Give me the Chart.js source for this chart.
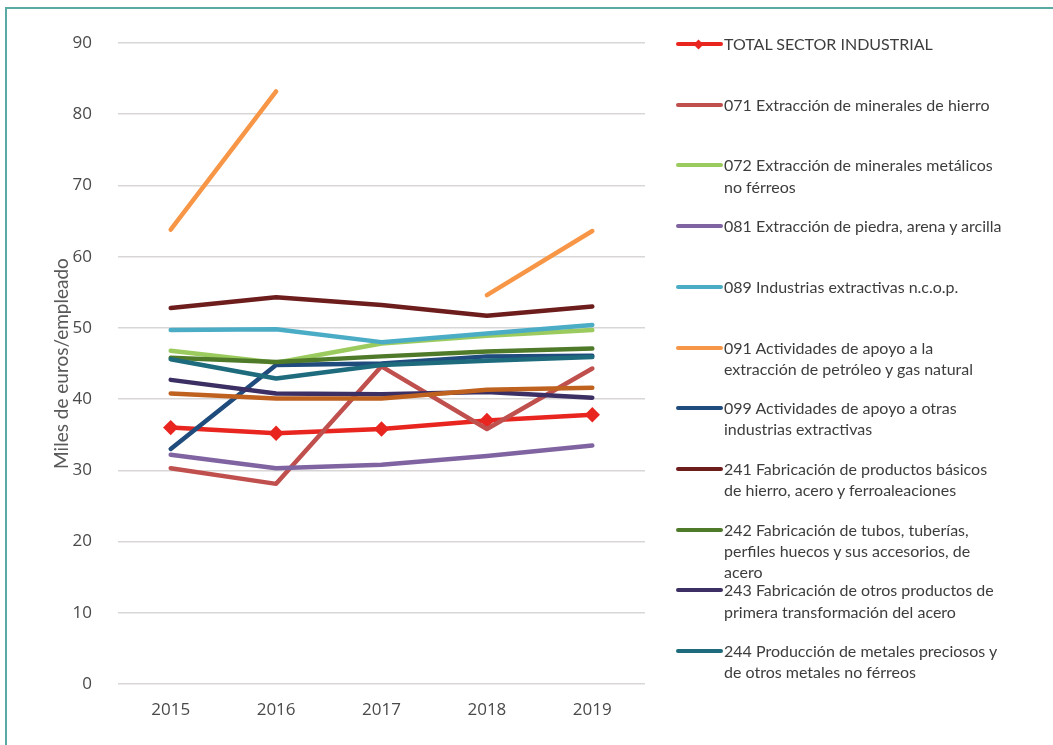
<!DOCTYPE html>
<html lang="es">
<head>
<meta charset="utf-8">
<title>Productividad por subsector</title>
<script src="https://cdn.jsdelivr.net/npm/chart.js@4.4.1/dist/chart.umd.min.js"></script>
<style>
  html, body { margin: 0; padding: 0; background: #fff; }
  body { width: 1053px; height: 745px; position: relative; overflow: hidden; font-family: Lato, "Open Sans", sans-serif; }
  .frame-top { position: absolute; left: 5px; top: 7px; width: 1048px; height: 2px; background: #5aaaa4; }
  .frame-left { position: absolute; left: 5px; top: 7px; width: 2px; height: 738px; background: #5aaaa4; }
  #wrap { position: absolute; left: 0; top: 0; width: 660px; height: 745px; }
  #legend { position: absolute; left: 0; top: 0; width: 1053px; height: 745px; pointer-events: none; }
  .item { position: absolute; left: 676px; }
  .swatch { position: absolute; left: 0; width: 47px; height: 4px; border-radius: 2px; }
  .diamond { position: absolute; left: 19px; width: 7px; height: 7px; transform: rotate(45deg); }
  .txt { position: absolute; left: 48px; width: 330px; font-size: 16px; line-height: 21.3px; color: #3d3d3d; white-space: nowrap; }
</style>
</head>
<body>
<div class="frame-top"></div>
<div class="frame-left"></div>
<div id="wrap"><canvas id="chart"></canvas></div>
<div id="legend"></div>
<script>
// Años del periodo
const years = ['2015', '2016', '2017', '2018', '2019'];

// Miles de euros por empleado, por subsector
const total = [36.0, 35.2, 35.8, 37.0, 37.8];
const s071 = [30.3, 28.1, 44.6, 35.8, 44.3];
const s072 = [46.8, 45.1, 47.8, 48.9, 49.7];
const s081 = [32.2, 30.3, 30.8, 32.0, 33.5];
const s089 = [49.7, 49.8, 48.0, 49.2, 50.4];
const s091 = [63.8, 83.2, null, 54.6, 63.6];
const s099 = [33.0, 44.8, 45.0, 46.0, 46.1];
const s241 = [52.8, 54.3, 53.2, 51.7, 53.0];
const s242 = [45.8, 45.2, 46.0, 46.7, 47.1];
const s243 = [42.7, 40.8, 40.7, 41.0, 40.2];
const s244 = [45.6, 42.9, 44.8, 45.4, 45.9];
const s245 = [40.8, 40.1, 40.1, 41.3, 41.6];

// Etiquetas de la leyenda
const labels = [
  'TOTAL SECTOR INDUSTRIAL',
  '071 Extracción de minerales de hierro',
  '072 Extracción de minerales metálicos\nno férreos',
  '081 Extracción de piedra, arena y arcilla',
  '089 Industrias extractivas n.c.o.p.',
  '091 Actividades de apoyo a la\nextracción de petróleo y gas natural',
  '099 Actividades de apoyo a otras\nindustrias extractivas',
  '241 Fabricación de productos básicos\nde hierro, acero y ferroaleaciones',
  '242 Fabricación de tubos, tuberías,\nperfiles huecos y sus accesorios, de\nacero',
  '243 Fabricación de otros productos de\nprimera transformación del acero',
  '244 Producción de metales preciosos y\nde otros metales no férreos',
  ''
];

const colors = ['#e8251f', '#c0504d', '#9bcb5e', '#8064a2', '#4bacc6', '#f79646',
                '#1f4b7d', '#6e1d1d', '#4f7a2a', '#3b2f63', '#1d6b7c', '#bf6220'];

const series = [total, s071, s072, s081, s089, s091, s099, s241, s242, s243, s244, s245];

const yTicks = [0, 10, 20, 30, 40, 50, 60, 70, 80, 90];

const datasets = series.map((data, i) => ({
  label: labels[i],
  data: data,
  borderColor: colors[i],
  backgroundColor: colors[i],
  borderWidth: 4.5,
  borderCapStyle: 'round',
  borderJoinStyle: 'round',
  tension: 0,
  spanGaps: false,
  pointStyle: 'rectRot',
  pointRadius: i === 0 ? 4.5 : 0,
  pointHoverRadius: i === 0 ? 4.5 : 0,
  order: -i
}));

const tickFont = { family: '"Open Sans", Lato, sans-serif', size: 17 };

new Chart(document.getElementById('chart'), {
  type: 'line',
  data: { labels: years, datasets: datasets },
  options: {
    responsive: true,
    maintainAspectRatio: false,
    animation: false,
    layout: { padding: { top: 43, right: 15, bottom: 0, left: 0 } },
    plugins: { legend: { display: false }, tooltip: { enabled: false } },
    scales: {
      x: {
        offset: true,
        grid: { display: false, drawTicks: false },
        border: { display: false },
        ticks: { color: '#4a4a4a', font: tickFont, padding: 16, maxRotation: 0 },
        afterFit: (scale) => { scale.height = 61; }
      },
      y: {
        min: 0,
        max: 90,
        afterBuildTicks: (scale) => { scale.ticks = yTicks.map(v => ({ value: v })); },
        grid: { color: '#d9d6d6', lineWidth: 1.5, drawTicks: false },
        border: { display: false },
        ticks: { color: '#4a4a4a', font: tickFont, padding: 26 },
        title: {
          display: true,
          text: 'Miles de euros/empleado',
          color: '#595959',
          font: { family: 'Lato, "Open Sans", sans-serif', size: 19 },
          padding: { top: 50, bottom: 0 }
        },
        afterFit: (scale) => { scale.width = 118; }
      }
    }
  }
});

// Leyenda a la derecha del gráfico
const legend = document.getElementById('legend');
const firstY = 44;
const stepY = 60.7;
labels.forEach((text, i) => {
  if (!text) return;
  const item = document.createElement('div');
  item.className = 'item';
  const cy = firstY + i * stepY;
  item.style.top = cy + 'px';
  const sw = document.createElement('div');
  sw.className = 'swatch';
  sw.style.top = '-2px';
  sw.style.background = colors[i];
  item.appendChild(sw);
  if (i === 0) {
    const d = document.createElement('div');
    d.className = 'diamond';
    d.style.top = '-3.5px';
    d.style.background = colors[i];
    item.appendChild(d);
  }
  const t = document.createElement('div');
  t.className = 'txt';
  t.style.top = '-11px';
  t.innerHTML = text.split('\n').join('<br>');
  item.appendChild(t);
  legend.appendChild(item);
});
</script>
</body>
</html>
